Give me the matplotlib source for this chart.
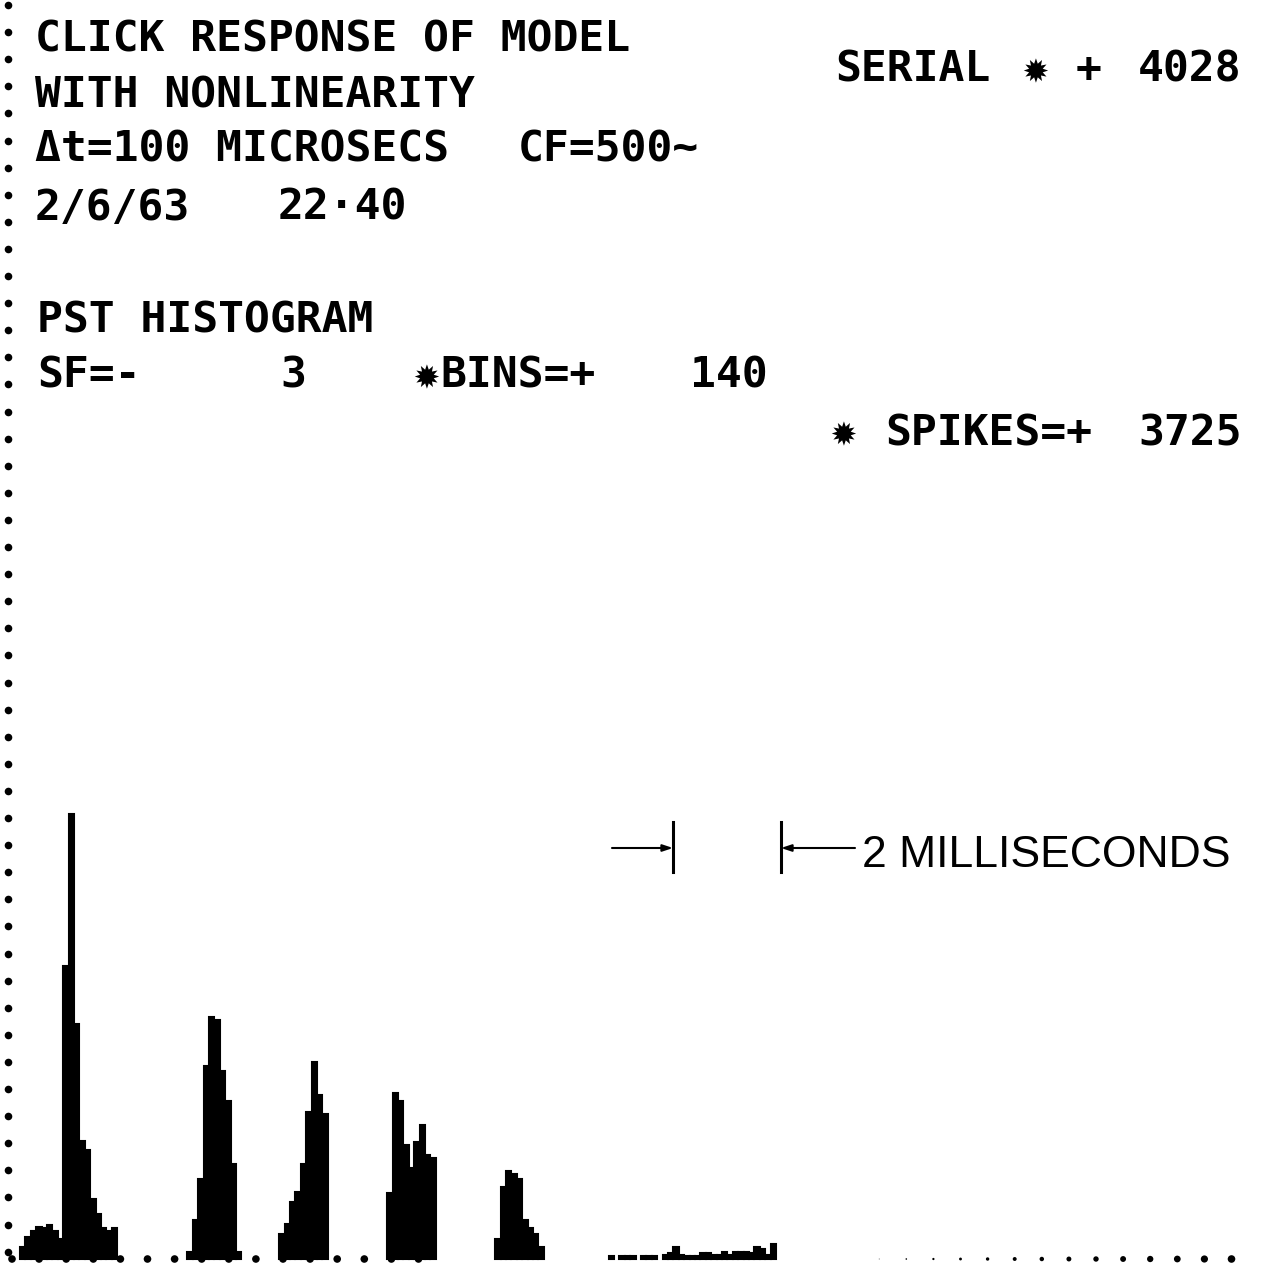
import numpy as np
import matplotlib
matplotlib.use("Agg")
from matplotlib import pyplot as plt

# PST histogram, 140 bins of 100 microsecs
n_bins = 140
dt_us = 100
counts = [
    8, 15, 19, 22, 21, 23, 19, 14, 201, 305, 161, 81, 75, 41, 31, 21, 19, 21,   # bins 0-17
    0, 0, 0, 0, 0, 0, 0, 0, 0, 0, 0, 0, 0,                                      # 18-30
    5, 27, 55, 132, 166, 164, 129, 108, 65, 5,                                  # 31-40
    0, 0, 0, 0, 0, 0, 0,                                                        # 41-47
    17, 24, 39, 46, 65, 101, 135, 112, 99,                                      # 48-56
    0, 0, 0, 0, 0, 0, 0, 0, 0, 0, 0,                                            # 57-67
    45, 114, 108, 78, 62, 80, 92, 71, 69,                                       # 68-76
    0, 0, 0, 0, 0, 0, 0, 0, 0, 0, 0,                                            # 77-87
    14, 49, 60, 58, 55, 27, 21, 17, 8,                                          # 88-96
    0, 0, 0, 0, 0, 0, 0, 0, 0, 0, 0, 0,                                         # 97-108
    2, 0, 2, 2, 2, 0, 2, 2, 2, 0, 3, 4, 8, 3, 2, 2, 2, 4, 4, 3, 3, 5, 3, 5, 5,
    5, 4, 8, 7, 3, 10,                                                          # 109-139
]

# text pieces: (string, left x px, baseline y px)
header_parts = [("CLICK RESPONSE OF MODEL", 35, 52),
                ("WITH NONLINEARITY", 35, 108),
                ("\u0394t=100 MICROSECS", 35, 162),
                ("CF=500~", 518, 162),
                ("2/6/63", 35, 220),
                ("22\u00b740", 278, 220)]
hist_parts = [("PST HISTOGRAM", 37, 333),
              ("SF=-", 37, 388),
              ("3", 280, 388),
              ("\u2739", 413, 388),
              ("BINS=+", 440, 388),
              ("140", 690, 388)]
serial_parts = [("SERIAL", 835, 82),
                ("\u2739", 1022, 82),
                ("+", 1076, 82),
                ("4028", 1138, 82)]
spike_parts = [("\u2739", 830, 445),
               ("SPIKES=+", 885, 445),
               ("3725", 1138, 445)]
scale_ms = 2
scale_label = "2 MILLISECONDS"

# page layout (pixels)
W, H = 1283, 1268
X0, BW = 20.0, 5.4      # left edge of bin 0, bin width
Y0, SC = 9.0, 1.46      # baseline from bottom, px per count

def px2x(px):
    return (px - X0) / BW

def py2y(py):
    return (H - py - Y0) / SC

fig = plt.figure(figsize=(W / 100, H / 100), dpi=100)
ax = fig.add_axes([0, 0, 1, 1])
ax.set_xlim(px2x(0), px2x(W))
ax.set_ylim(py2y(H), py2y(0))
ax.axis("off")

# histogram bars
counts = np.array(counts)
bins = np.arange(n_bins)
nz = counts > 0
ax.bar(bins[nz], counts[nz], width=1.0, align="edge", color="black",
       edgecolor="black", linewidth=1.5, zorder=3)

# dotted left axis
ky = 5 + 27.1 * np.arange(47)
ax.scatter(np.full(len(ky), px2x(8)), py2y(ky), s=30, color="black", lw=0)

# dotted baseline (faded in the middle like the print)
kx = 12 + 27.1 * np.arange(46)
sizes = []
for x in kx:
    if x < 440:
        sizes.append(30)
    elif x < 870:
        sizes.append(0)
    else:
        sizes.append(30 * ((x - 860) / (1232 - 860)) ** 1.5)
ax.scatter(px2x(kx), np.zeros(len(kx)), s=sizes, color="black", lw=0, zorder=2)

# 2 ms scale marker
n_scale = scale_ms * 1000 / dt_us
left_b = px2x(673)
right_b = left_b + n_scale
ytop, ybot, ymid = py2y(822), py2y(872), py2y(848)
ax.plot([left_b, left_b], [ybot, ytop], color="black", lw=2.2)
ax.plot([right_b, right_b], [ybot, ytop], color="black", lw=2.2)
ax.annotate("", xy=(left_b, ymid), xytext=(px2x(612), ymid),
            arrowprops=dict(arrowstyle="-|>,head_length=0.6,head_width=0.2",
                            color="black", lw=1.5, shrinkA=0, shrinkB=0))
ax.annotate("", xy=(right_b, ymid), xytext=(px2x(855), ymid),
            arrowprops=dict(arrowstyle="-|>,head_length=0.6,head_width=0.2",
                            color="black", lw=1.5, shrinkA=0, shrinkB=0))
fig.text(862 / W, 1 - 867 / H, scale_label, fontsize=32,
         family="Liberation Sans", va="baseline", ha="left")

# plotter text
mono = dict(fontsize=31, fontweight="bold",
            family=["DejaVu Sans Mono", "DejaVu Sans"], va="baseline", ha="left")

for s, px, py in header_parts + hist_parts + serial_parts + spike_parts:
    fig.text(px / W, 1 - py / H, s, **mono)

fig.savefig("out.png", dpi=100, facecolor="white")
